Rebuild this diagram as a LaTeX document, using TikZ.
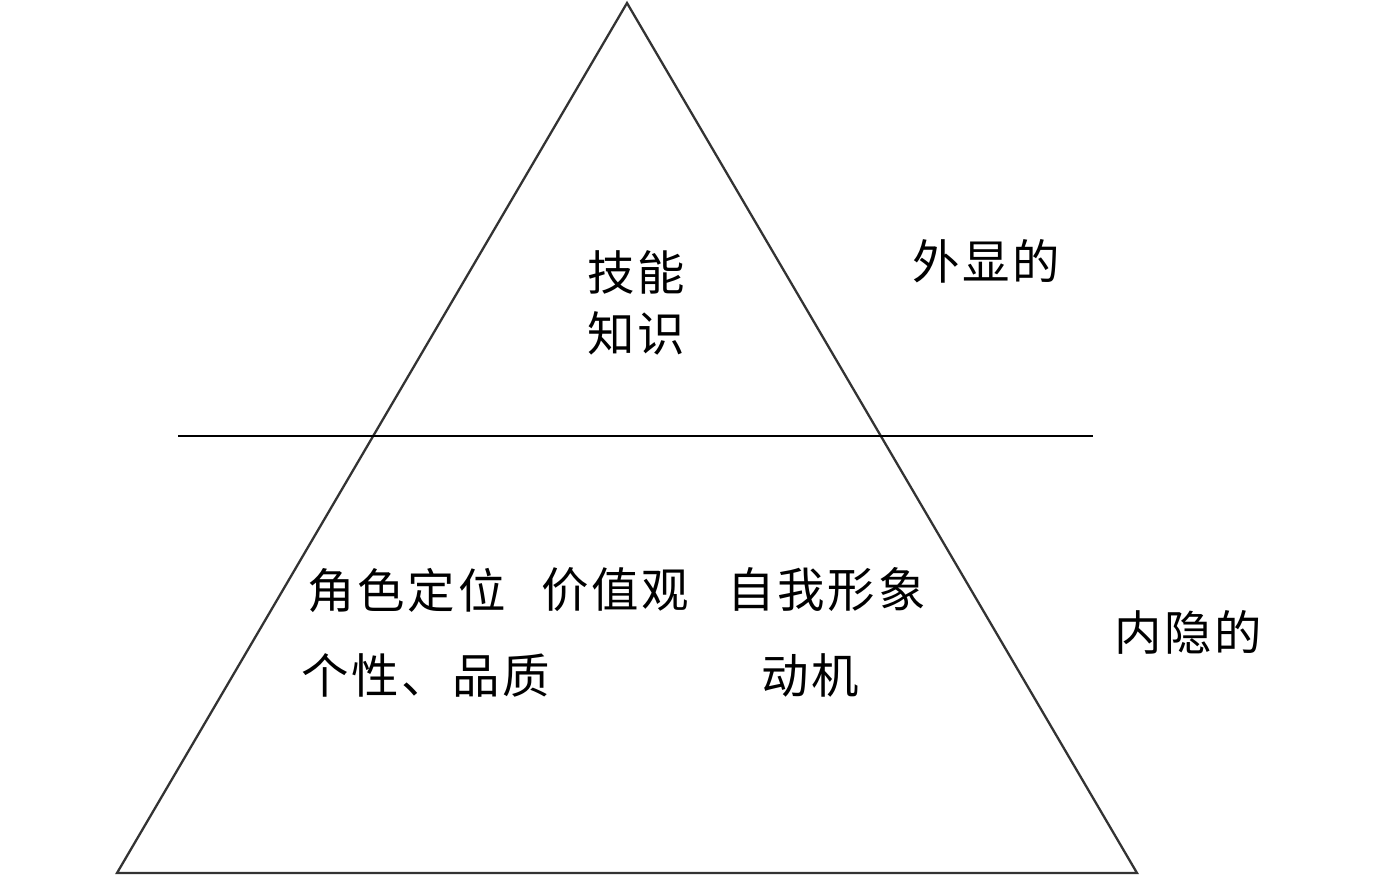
\documentclass[tikz,border=0pt]{standalone}
\usepackage{fontspec}
\newfontfamily\cjk[LetterSpace=6]{Noto Sans CJK SC}
\tikzset{
    lbl/.style={anchor=west, inner sep=0pt, font=\cjk\fontsize{27}{30}\selectfont},
    edge/.style={line width=1.3pt, color=black!80}
}
\begin{document}
\begin{tikzpicture}[x=0.02cm, y=-0.02cm]
    \useasboundingbox (0,0) rectangle (1378,877);
    % pyramid corners
    \coordinate (top) at (627,3);
    \coordinate (bl) at (117,873);
    \coordinate (br) at (1137,873);
    \draw[edge] (top) -- (br) -- (bl) -- cycle;
    % dividing line
    \coordinate (cutl) at (178,436);
    \coordinate (cutr) at (1093,436);
    \draw[line width=1.2pt] (cutl) -- (cutr);
    % upper part
    \node[lbl] (skill) at (587,272) {技能};
    \node[lbl] (know) at (587,333) {知识};
    \node[lbl] (outer) at (912,261) {外显的};
    % lower part
    \node[lbl] (role) at (307,590) {角色定位};
    \node[lbl] (value) at (541,590) {价值观};
    \node[lbl] (self) at (727,590) {自我形象};
    \node[lbl] (trait) at (301,675) {个性、品质};
    \node[lbl] (motive) at (761,675) {动机};
    \node[lbl] (inner) at (1114,632) {内隐的};
\end{tikzpicture}
\end{document}
